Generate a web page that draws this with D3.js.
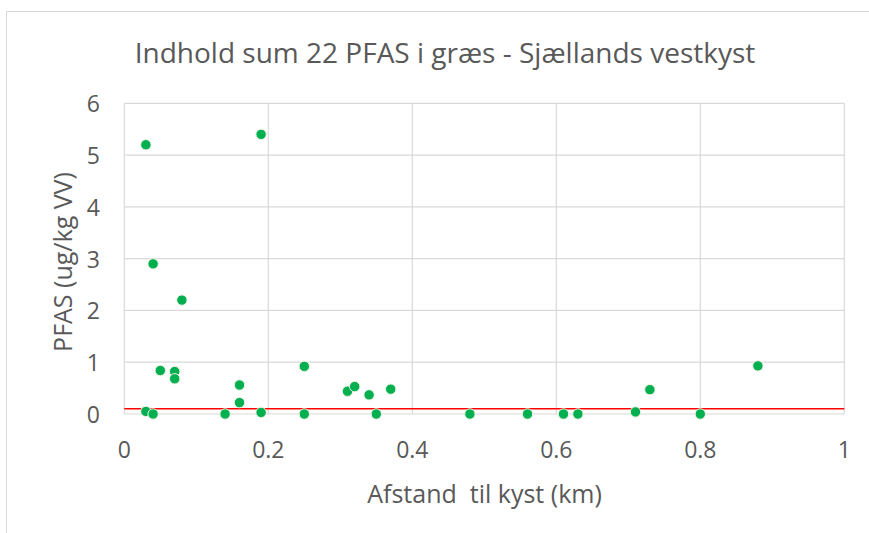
<!DOCTYPE html>
<html>
<head>
<meta charset="utf-8">
<script src="https://cdn.jsdelivr.net/npm/d3@7"></script>
<style>
    body { margin: 0; background: #fff; }
    svg text { font-family: "Open Sans", "Noto Sans", sans-serif; fill: #595959; }
</style>
</head>
<body>
<svg id="chart" width="869" height="533"></svg>
<script>

// Data ////////////////////////////////////

const distance = [0.03, 0.19, 0.04, 0.08, 0.05, 0.07, 0.07, 0.16, 0.16, 0.25,
                  0.03, 0.04, 0.14, 0.19, 0.25, 0.31, 0.32, 0.34, 0.37, 0.35,
                  0.48, 0.56, 0.61, 0.63, 0.73, 0.88, 0.71, 0.80];
const pfas     = [5.2, 5.4, 2.9, 2.2, 0.84, 0.82, 0.68, 0.56, 0.22, 0.92,
                  0.05, 0, 0, 0.03, 0, 0.44, 0.53, 0.37, 0.48, 0,
                  0, 0, 0, 0, 0.47, 0.93, 0.04, 0];

const xTicks = [0, 0.2, 0.4, 0.6, 0.8, 1];
const yTicks = [0, 1, 2, 3, 4, 5, 6];
const limit = 0.1;

const title = "Indhold sum 22 PFAS i græs - Sjællands vestkyst";
const xTitle = "Afstand  til kyst (km)";
const yTitle = "PFAS (ug/kg VV)";

// Chart ////////////////////////////////////

const svg = d3.select("#chart");
const plot = { left: 124.3, right: 844.3, top: 103.3, bottom: 414 };

// outer frame (cropped at right and bottom)
svg.append("path")
    .attr("d", "M6.5,540 V11.5 H880")
    .attr("fill", "none")
    .attr("stroke", "#d9d9d9")
    .attr("stroke-width", 1);

const x = d3.scaleLinear().domain([0, 1]).range([plot.left, plot.right]);
const y = d3.scaleLinear().domain([0, 6]).range([plot.bottom, plot.top]);

// Grid

svg.append("g")
    .selectAll("line")
    .data(yTicks)
    .join("line")
    .attr("x1", plot.left).attr("x2", plot.right)
    .attr("y1", d => y(d)).attr("y2", d => y(d))
    .attr("stroke", "#d9d9d9")
    .attr("stroke-width", 1.2);

svg.append("g")
    .selectAll("line")
    .data(xTicks)
    .join("line")
    .attr("x1", d => x(d)).attr("x2", d => x(d))
    .attr("y1", plot.top).attr("y2", plot.bottom)
    .attr("stroke", "#d9d9d9")
    .attr("stroke-width", 1.2);

// Axes labels

svg.append("g")
    .selectAll("text")
    .data(xTicks)
    .join("text")
    .attr("x", d => x(d))
    .attr("y", 458)
    .attr("text-anchor", "middle")
    .style("font-size", "23px")
    .text(d => d);

svg.append("g")
    .selectAll("text")
    .data(yTicks)
    .join("text")
    .attr("x", 100)
    .attr("y", d => y(d) + 9)
    .attr("text-anchor", "end")
    .style("font-size", "23px")
    .text(d => d);

svg.append("text")
    .attr("x", 445)
    .attr("y", 62.5)
    .attr("text-anchor", "middle")
    .style("font-size", "28px")
    .text(title);

svg.append("text")
    .attr("x", 484.5)
    .attr("y", 503)
    .attr("text-anchor", "middle")
    .style("font-size", "25px")
    .style("white-space", "pre")
    .attr("xml:space", "preserve")
    .text(xTitle);

svg.append("text")
    .attr("transform", "translate(72, 262) rotate(-90)")
    .attr("text-anchor", "middle")
    .style("font-size", "25px")
    .text(yTitle);

// Limit line

svg.append("line")
    .attr("x1", plot.left).attr("x2", plot.right)
    .attr("y1", y(limit)).attr("y2", y(limit))
    .attr("stroke", "#ff0000")
    .attr("stroke-width", 1.6);

// Points

svg.append("g")
    .selectAll("circle")
    .data(distance.map((d, i) => [d, pfas[i]]))
    .join("circle")
    .attr("cx", d => x(d[0]))
    .attr("cy", d => y(d[1]))
    .attr("r", 5.2)
    .attr("fill", "#00b050")
    .attr("stroke", "#f3f3e3")
    .attr("stroke-width", 1);

</script>
</body>
</html>
